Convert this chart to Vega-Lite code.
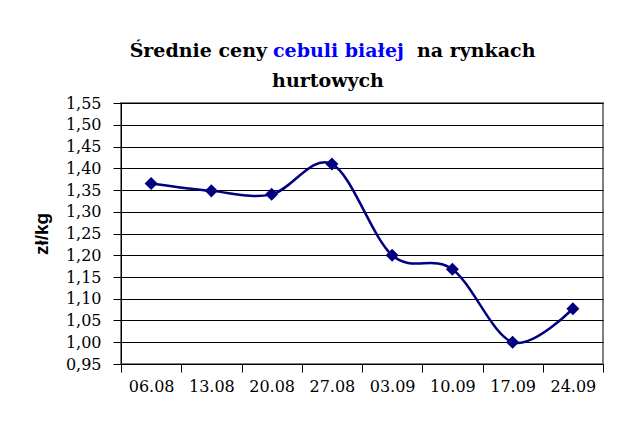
{
  "$schema": "https://vega.github.io/schema/vega-lite/v6.json",
  "background": "white",
  "padding": {"left": 31, "top": 41, "right": 5, "bottom": 5},
  "config": {
    "view": {"stroke": null},
    "font": "DejaVu Serif",
    "title": {"font": "DejaVu Serif", "fontSize": 19, "fontWeight": "bold", "color": "#000000"}
  },
  "spacing": 0,
  "vconcat": [
    {
      "spacing": 6,
      "hconcat": [
        {"width": 146, "height": 1, "data": {"values": [{}]}, "mark": {"type": "point", "opacity": 0}, "encoding": {}, "title": {"text": "Średnie ceny", "anchor": "end", "color": "#000000"}},
        {"width": 138, "height": 1, "data": {"values": [{}]}, "mark": {"type": "point", "opacity": 0}, "encoding": {}, "title": {"text": "cebuli białej", "anchor": "start", "color": "#0000FF"}},
        {"width": 130, "height": 1, "data": {"values": [{}]}, "mark": {"type": "point", "opacity": 0}, "encoding": {}, "title": {"text": "na rynkach", "anchor": "start", "color": "#000000"}}
      ]
    },
    {
      "width": 482,
      "height": 261,
      "view": {"stroke": "#808080", "strokeWidth": 2},
      "title": {"text": "hurtowych", "anchor": "middle", "frame": "group", "dx": -34, "offset": 4, "color": "#000000"},
      "data": {"values": [
        {"week": "06.08", "price": 1.365},
        {"week": "13.08", "price": 1.348},
        {"week": "20.08", "price": 1.340},
        {"week": "27.08", "price": 1.410},
        {"week": "03.09", "price": 1.200},
        {"week": "10.09", "price": 1.168},
        {"week": "17.09", "price": 1.000},
        {"week": "24.09", "price": 1.077}
      ]},
      "encoding": {
        "x": {
          "field": "week", "type": "ordinal", "sort": null,
          "scale": {"paddingInner": 0, "paddingOuter": 0},
          "axis": {
            "title": null, "labelAngle": 0, "tickBand": "extent", "grid": false,
            "tickSize": 8, "tickColor": "#000000", "domainColor": "#000000",
            "labelFont": "DejaVu Serif", "labelFontSize": 16, "labelColor": "#000000", "labelPadding": 6
          }
        },
        "y": {
          "field": "price", "type": "quantitative",
          "scale": {"domain": [0.95, 1.55], "nice": false, "zero": false},
          "axis": {
            "values": [0.95, 1.0, 1.05, 1.1, 1.15, 1.2, 1.25, 1.3, 1.35, 1.4, 1.45, 1.5, 1.55],
            "labelExpr": "replace(format(datum.value, '.2f'), '.', ',')",
            "grid": true, "gridColor": "#000000", "gridWidth": 1, "gridOpacity": 1,
            "tickSize": 8, "tickColor": "#000000", "domainColor": "#000000",
            "labelFont": "DejaVu Serif", "labelFontSize": 16, "labelColor": "#000000", "labelPadding": 12,
            "title": "zł/kg", "titleFont": "Liberation Sans", "titleFontSize": 19, "titleFontWeight": "bold",
            "titleColor": "#000000", "titlePadding": 14
          }
        }
      },
      "layer": [
        {"mark": {"type": "line", "interpolate": "cardinal", "color": "#000080", "strokeWidth": 2.5}},
        {"mark": {"type": "point", "shape": "diamond", "filled": true, "size": 170, "color": "#000080", "opacity": 1}}
      ]
    }
  ]
}
